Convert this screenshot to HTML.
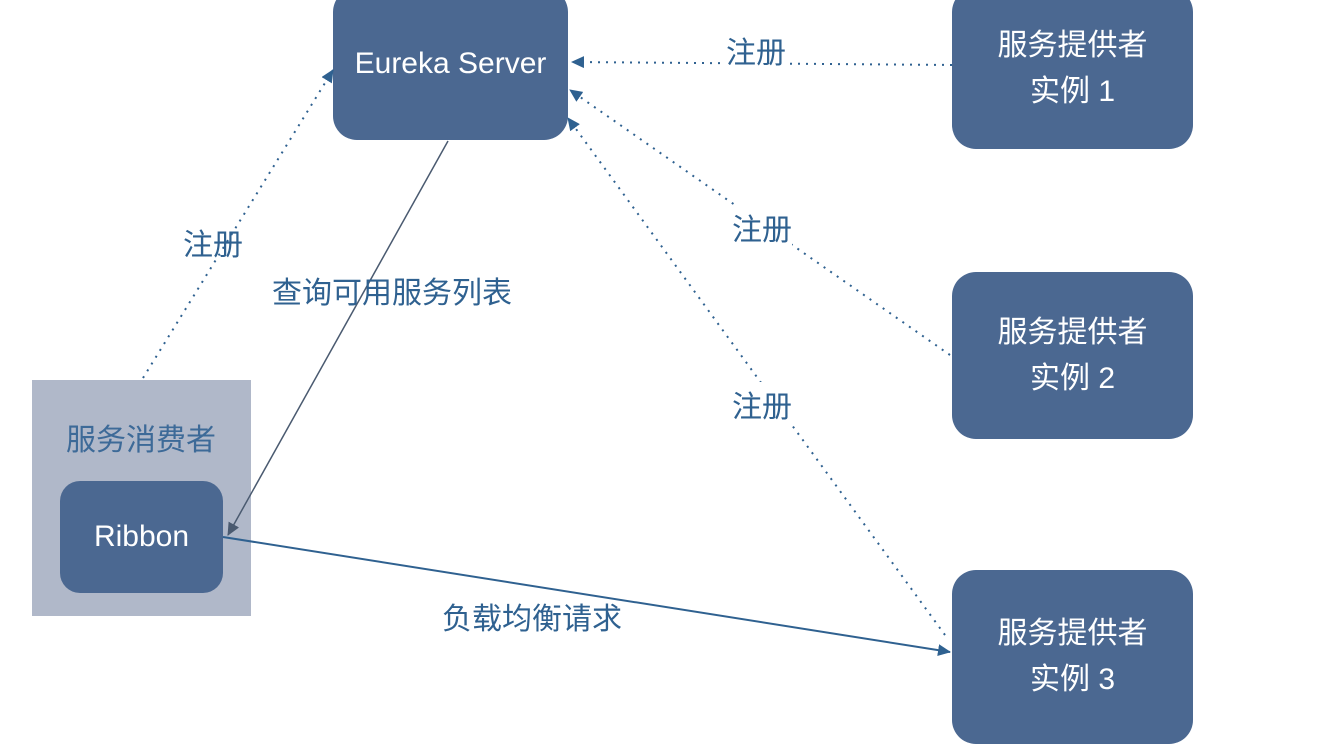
<!DOCTYPE html>
<html><head><meta charset="utf-8"><style>
body{margin:0;width:1320px;height:706px;background:#fff;overflow:hidden;position:relative;font-family:"Liberation Sans","Noto Sans CJK SC",sans-serif}
.b{position:absolute;background:#4b6891;border-radius:24px;color:#fff;display:flex;align-items:center;justify-content:center;text-align:center;font-size:30px;line-height:46px}
.l{position:absolute;color:#2f6190;font-size:30px;white-space:nowrap}
</style></head><body>
<div style="position:absolute;left:32px;top:380px;width:219px;height:236px;background:#b0b8c9"></div>
<div class="b" style="left:333px;top:-12px;width:235px;height:152px;font-size:30px">Eureka Server</div>
<div class="b" style="left:952px;top:-12px;width:241px;height:161px;box-sizing:border-box">服务提供者<br>实例 1</div>
<div class="b" style="left:952px;top:272px;width:241px;height:167px">服务提供者<br>实例 2</div>
<div class="b" style="left:952px;top:570px;width:241px;height:174px;box-sizing:border-box">服务提供者<br>实例 3</div>
<div class="b" style="left:60px;top:481px;width:163px;height:112px;font-size:30px;border-radius:20px">Ribbon</div>
<div class="l" style="left:66px;top:415px;color:#3d6a98">服务消费者</div>
<svg width="1320" height="706" style="position:absolute;left:0;top:0">
<defs><marker id="a" markerWidth="13" markerHeight="12" refX="12" refY="6" orient="auto" markerUnits="userSpaceOnUse"><path d="M0,0 L13,6 L0,12z" fill="#2f6190"/></marker>
<marker id="g" markerWidth="13" markerHeight="12" refX="12" refY="6" orient="auto" markerUnits="userSpaceOnUse"><path d="M0,0 L13,6 L0,12z" fill="#4a5a70"/></marker></defs>
<g stroke="#2f6190" stroke-width="2" stroke-dasharray="2,6" fill="none">
<line x1="143" y1="378" x2="333" y2="70" marker-end="url(#a)"/>
<line x1="952" y1="65" x2="572" y2="62" marker-end="url(#a)"/>
<line x1="950" y1="355" x2="570" y2="90" marker-end="url(#a)"/>
<line x1="945" y1="635" x2="568" y2="118" marker-end="url(#a)"/>
</g>
<line x1="448" y1="141" x2="228" y2="535" stroke="#4a5a70" stroke-width="1.5" marker-end="url(#g)"/>
<line x1="223" y1="537" x2="950" y2="652" stroke="#2f6190" stroke-width="2" marker-end="url(#a)"/>
</svg>
<div class="l" style="left:726px;top:28px;background:#fff">注册</div>
<div class="l" style="left:183px;top:220px">注册</div>
<div class="l" style="left:732px;top:205px;background:#fff">注册</div>
<div class="l" style="left:732px;top:382px;background:#fff">注册</div>
<div class="l" style="left:272px;top:268px">查询可用服务列表</div>
<div class="l" style="left:442px;top:594px">负载均衡请求</div>
</body></html>
